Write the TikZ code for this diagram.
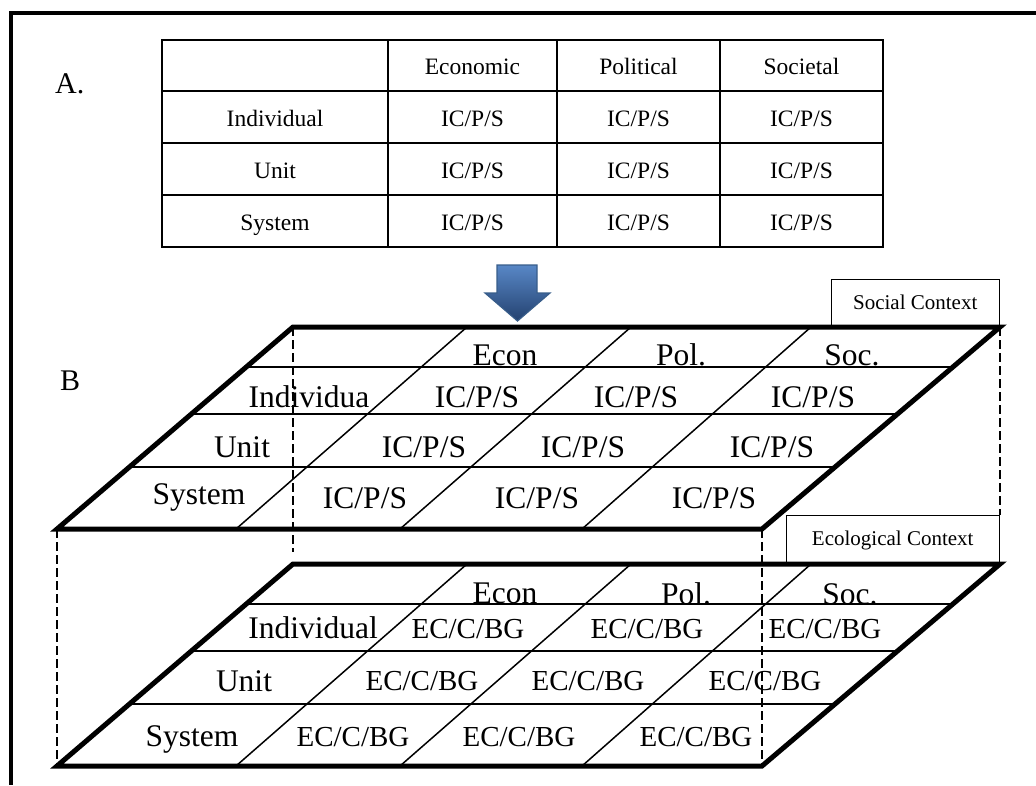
\documentclass[tikz,border=0pt]{standalone}
\usepackage{fontspec}
\setmainfont{Liberation Serif}
\usetikzlibrary{positioning, calc}
\definecolor{arrowtop}{RGB}{88,135,198}
\definecolor{arrowbottom}{RGB}{36,66,112}
\definecolor{arrowline}{RGB}{56,93,138}

\begin{document}
\begin{tikzpicture}[x=1pt, y=-1pt, line join=miter,
  frame line/.style={line width=3.5pt},
  table line/.style={line width=2pt},
  grid line/.style={line width=1.5pt},
  edge line/.style={line width=5pt},
  hidden line/.style={line width=1.3pt, dash pattern=on 9pt off 4pt},
  cell/.style={anchor=base, inner sep=0pt, font=\fontsize{23.5}{28}\selectfont},
  part label/.style={anchor=base west, inner sep=0pt, font=\fontsize{30}{34}\selectfont},
  slab text/.style={anchor=base, inner sep=0pt, font=\fontsize{31.5}{36}\selectfont},
  eco text/.style={anchor=base, inner sep=0pt, font=\fontsize{29}{34}\selectfont},
  context box/.style={draw, line width=1.5pt, inner sep=0pt, minimum height=47pt, text height=14pt, text depth=0pt, font=\fontsize{21}{25}\selectfont},
  block arrow/.style={draw=arrowline, line width=1.2pt, top color=arrowtop, bottom color=arrowbottom}]
\useasboundingbox (0,0) rectangle (1036,785);
\draw[frame line] (1036,13) -- (11,13) -- (11,785);

% A. the table
\node[part label] (labA) at (55,93) {A.};
\draw[table line] (162,40) rectangle (883,247);
\foreach \y in {91,143,195} \draw[table line] (162,\y) -- (883,\y);
\foreach \x in {388,557,720} \draw[table line] (\x,40) -- (\x,247);
\node[cell] (hEcon) at (472.5,74) {Economic};
\node[cell] (hPol) at (638.5,74) {Political};
\node[cell] (hSoc) at (801.5,74) {Societal};
\foreach \y/\r [count=\j] in {126/Individual, 178/Unit, 230/System} {
  \node[cell] (r-\j) at (275,\y) {\r};
  \foreach \x [count=\i] in {472.5,638.5,801.5}
    \node[cell] (a-\j-\i) at (\x,\y) {IC/P/S};
}

\draw[block arrow] (497,265) -- (537,265) -- (537,293) -- (550,293) -- (517.5,321) -- (485,293) -- (497,293) -- cycle;

% B. the two slabs
\node[part label] (labB) at (60,390) {B};
\foreach \dy/\p in {0/u, 237/l} {
  \begin{scope}[shift={(0,\dy)}]
    \coordinate (\p TL) at (293,327);
    \coordinate (\p TR) at (1000,327);
    \coordinate (\p BL) at (57,529);
    \coordinate (\p BR) at (762,529);
    \foreach \t in {0.198,0.431,0.693}
      \draw[grid line] ($(\p TL)!\t!(\p BL)$) -- ($(\p TR)!\t!(\p BR)$);
    \foreach \a/\b in {467/236, 631/400, 811/582}
      \draw[grid line] (\a,327) -- (\b,529);
    \draw[edge line] (\p TL) -- (\p TR) -- (\p BR) -- (\p BL) -- cycle;
  \end{scope}
}

\node[context box, minimum width=168pt, above left=0pt and 0pt of uTR] (social) {Social Context};
\node[context box, minimum width=213pt, above left=1pt and 0pt of lTR] (ecological) {Ecological Context};

\draw[hidden line] (uTL) -- ($(lTL)+(0,-12)$);
\draw[hidden line] (uBL) -- (lBL);
\draw[hidden line] (uBR) -- (lBR);
\draw[hidden line] (uTR) -- (ecological.north east);

% upper slab texts
\node[slab text] (uEcon) at (505,365) {Econ};
\node[slab text] (uPol) at (681,365) {Pol.};
\node[slab text] (uSoc) at (852,365) {Soc.};
\node[slab text] (uInd) at (309,407) {Individua};
\node[slab text] (uUnit) at (242,457) {Unit};
\node[slab text] (uSys) at (199,504) {System};
\foreach \y/\xa/\xb/\xc [count=\j] in {407/477/636/813, 457/424/583/772, 508/365/537/714} {
  \node[slab text] (b-\j-1) at (\xa,\y) {IC/P/S};
  \node[slab text] (b-\j-2) at (\xb,\y) {IC/P/S};
  \node[slab text] (b-\j-3) at (\xc,\y) {IC/P/S};
}

% lower slab texts
\node[slab text] (lEcon) at (505,603) {Econ};
\node[slab text] (lPol) at (686,604) {Pol.};
\node[slab text] (lSoc) at (850,604) {Soc.};
\node[slab text] (lInd) at (313,638) {Individual};
\node[slab text] (lUnit) at (244,691) {Unit};
\node[slab text] (lSys) at (192,746) {System};
\foreach \y/\xa/\xb/\xc [count=\j] in {638/468/647/825, 690/422/588/765, 746/353/519/696} {
  \node[eco text] (c-\j-1) at (\xa,\y) {EC/C/BG};
  \node[eco text] (c-\j-2) at (\xb,\y) {EC/C/BG};
  \node[eco text] (c-\j-3) at (\xc,\y) {EC/C/BG};
}
\end{tikzpicture}
\end{document}
